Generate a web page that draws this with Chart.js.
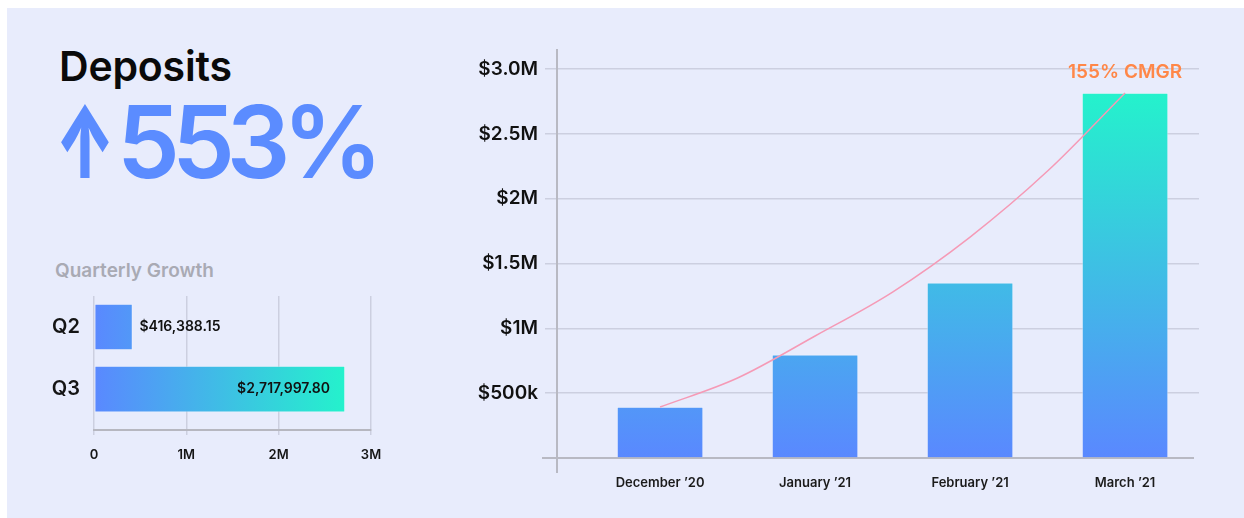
<!DOCTYPE html>
<html>
<head>
<meta charset="utf-8">
<script src="https://cdn.jsdelivr.net/npm/chart.js@4.4.1/dist/chart.umd.min.js"></script>
<style>
  html, body { margin: 0; padding: 0; background: #ffffff; }
  body { width: 1244px; height: 518px; position: relative; overflow: hidden; font-family: Inter, "Noto Sans", sans-serif; }
  #panel { position: absolute; left: 7px; top: 8px; right: 0; bottom: 0; background: #e8ecfc; }
  .txt { position: absolute; white-space: nowrap; line-height: 1; }
  #title { left: 59px; top: 46px; font-size: 41px; font-weight: 600; color: #0a0a0a; letter-spacing: -0.2px; }
  #arrow { left: 55px; top: 92px; font-size: 100px; font-weight: 900; color: #5b8cff; transform: scaleX(0.62); transform-origin: left top; }
  #growth { left: 117px; top: 92px; font-size: 100px; font-weight: 600; color: #5b8cff; letter-spacing: -8px; }
  #sub { left: 55px; top: 261px; font-size: 19px; font-weight: 600; color: #a9aab4; }
  .box { position: absolute; }
  #leftBox { left: 30px; top: 280px; width: 360px; height: 200px; }
  #rightBox { left: 440px; top: 40px; width: 780px; height: 460px; }
</style>
</head>
<body>
<div id="panel"></div>
<div class="txt" id="title">Deposits</div>
<div class="txt" id="arrow">↑</div>
<div class="txt" id="growth">553%</div>
<div class="txt" id="sub">Quarterly Growth</div>
<div class="box" id="leftBox"><canvas id="quarterChart" width="360" height="200"></canvas></div>
<div class="box" id="rightBox"><canvas id="monthChart" width="780" height="460"></canvas></div>

<script>
// quarterly totals
const quarters = ["Q2", "Q3"];
const quarterValues = [416388.15, 2717997.80];
const quarterTicks = ["0", "1M", "2M", "3M"];

// monthly deposits
const months = ["December \u201920", "January \u201921", "February \u201921", "March \u201921"];
const deposits = [393000, 795000, 1350000, 2815000];
const yTickLabels = ["", "$500k", "$1M", "$1.5M", "$2M", "$2.5M", "$3.0M"];

// growth curve (x = month index)
const curveX = [0, 0.5, 1, 1.5, 2, 2.5, 3];
const curveY = [393000, 617000, 941000, 1280000, 1704000, 2213000, 2815000];
const cmgrLabel = "155% CMGR";

const BLUE = "#5a88ff";
const TEAL = "#24f2cc";

Chart.defaults.font.family = "Inter, 'Noto Sans', sans-serif";
Chart.defaults.color = "#151515";

function fmtMoney(v) {
    return "$" + v.toLocaleString("en-US", { minimumFractionDigits: 2, maximumFractionDigits: 2 });
}

// ---------- left: quarterly growth ----------
const valueLabels = {
    id: "valueLabels",
    afterDatasetsDraw(chart) {
        const c = chart.ctx;
        const meta = chart.getDatasetMeta(0);
        c.save();
        c.font = "600 14px Inter, sans-serif";
        c.fillStyle = "#111111";
        c.textBaseline = "middle";
        meta.data.forEach((el, i) => {
            const text = fmtMoney(quarterValues[i]);
            const w = c.measureText(text).width;
            if (el.x - el.base > w + 30) {
                c.textAlign = "right";
                c.fillText(text, el.x - 15, el.y);
            } else {
                c.textAlign = "left";
                c.fillText(text, el.x + 7, el.y);
            }
        });
        c.restore();
    }
};

new Chart(document.getElementById("quarterChart"), {
    type: "bar",
    data: {
        datasets: [{
            data: quarters.map((q, i) => ({ x: quarterValues[i], y: i })),
            barThickness: 46,
            borderWidth: 1,
            borderColor: "rgba(255,255,255,0.25)",
            borderSkipped: false,
            backgroundColor: (ctx) => {
                const { chart } = ctx;
                if (!chart.chartArea) return BLUE;
                const x0 = chart.scales.x.getPixelForValue(0);
                const x1 = chart.scales.x.getPixelForValue(Math.max(...quarterValues));
                const g = chart.ctx.createLinearGradient(x0, 0, x1, 0);
                g.addColorStop(0, BLUE);
                g.addColorStop(1, TEAL);
                return g;
            }
        }]
    },
    options: {
        responsive: false,
        animation: false,
        indexAxis: "y",
        layout: { padding: { top: 16, right: 19, left: 0, bottom: 0 } },
        plugins: { legend: { display: false }, tooltip: { enabled: false } },
        scales: {
            x: {
                type: "linear",
                min: 0,
                max: 3000000,
                afterFit: (s) => { s.height = 50; s.paddingLeft = 0; s.paddingRight = 0; },
                ticks: {
                    stepSize: 1000000,
                    padding: 12,
                    font: { size: 13, weight: "600" },
                    callback: (v) => quarterTicks[Math.round(v / 1000000)]
                },
                grid: { color: "rgba(170,172,190,0.45)", lineWidth: 1.5, tickLength: 5 },
                border: { color: "#b6b7c0", width: 2 }
            },
            y: {
                type: "linear",
                reverse: true,
                offset: false,
                min: -0.5,
                max: 1.66,
                afterFit: (s) => { s.width = 64; s.paddingTop = 0; s.paddingBottom = 0; },
                afterBuildTicks: (s) => { s.ticks = quarters.map((q, i) => ({ value: i })); },
                ticks: {
                    padding: 14,
                    autoSkip: false,
                    font: { size: 20, weight: "600" },
                    callback: (v) => quarters[v]
                },
                grid: { display: false, drawTicks: false },
                border: { display: false }
            }
        }
    },
    plugins: [valueLabels]
});

// ---------- right: monthly deposits ----------
const axisLines = {
    id: "axisLines",
    beforeDatasetsDraw(chart) {
        const { ctx: c, chartArea: a } = chart;
        c.save();
        c.strokeStyle = "#b8b9c3";
        c.lineWidth = 2;
        c.beginPath();
        c.moveTo(a.left, a.top - 20);
        c.lineTo(a.left, a.bottom + 15);
        c.moveTo(a.left - 15, a.bottom);
        c.lineTo(a.right - 5, a.bottom);
        c.stroke();
        c.restore();
    }
};

const cmgrText = {
    id: "cmgrText",
    afterDatasetsDraw(chart) {
        const meta = chart.getDatasetMeta(0);
        const last = meta.data[meta.data.length - 1];
        const c = chart.ctx;
        c.save();
        c.font = "600 19px Inter, sans-serif";
        c.fillStyle = "#ff8748";
        c.textAlign = "center";
        c.textBaseline = "middle";
        c.fillText(cmgrLabel, last.x, chart.scales.y.getPixelForValue(3000000) + 3);
        c.restore();
    }
};

new Chart(document.getElementById("monthChart"), {
    data: {
        datasets: [{
            type: "bar",
            data: months.map((m, i) => ({ x: i, y: deposits[i] })),
            barThickness: 86,
            borderWidth: 1,
            borderColor: "rgba(255,255,255,0.3)",
            borderSkipped: "bottom",
            order: 2,
            backgroundColor: (ctx) => {
                const { chart } = ctx;
                if (!chart.chartArea) return BLUE;
                const y0 = chart.scales.y.getPixelForValue(0);
                const y1 = chart.scales.y.getPixelForValue(Math.max(...deposits));
                const g = chart.ctx.createLinearGradient(0, y0, 0, y1);
                g.addColorStop(0, BLUE);
                g.addColorStop(1, TEAL);
                return g;
            }
        }, {
            type: "line",
            data: curveX.map((x, i) => ({ x: x, y: curveY[i] })),
            borderColor: "#f59ab6",
            borderWidth: 1.5,
            pointRadius: 0,
            cubicInterpolationMode: "monotone",
            order: 1
        }]
    },
    options: {
        responsive: false,
        animation: false,
        layout: { padding: { top: 29, right: 21, left: 0, bottom: 0 } },
        plugins: { legend: { display: false }, tooltip: { enabled: false } },
        scales: {
            x: {
                type: "linear",
                offset: false,
                min: -0.665,
                max: 3.477,
                afterFit: (s) => { s.height = 42; s.paddingLeft = 0; s.paddingRight = 0; },
                afterBuildTicks: (s) => { s.ticks = months.map((m, i) => ({ value: i })); },
                ticks: {
                    padding: 17,
                    autoSkip: false,
                    maxRotation: 0,
                    font: { size: 13, weight: "600" },
                    color: "#1b1b1b",
                    callback: (v) => months[v]
                },
                grid: { display: false, drawTicks: false },
                border: { display: false }
            },
            y: {
                min: 0,
                max: 3000000,
                afterFit: (s) => { s.width = 117; s.paddingTop = 0; s.paddingBottom = 0; },
                ticks: {
                    stepSize: 500000,
                    padding: 7,
                    font: { size: 19, weight: "600" },
                    color: "#111111",
                    callback: (v) => yTickLabels[Math.round(v / 500000)]
                },
                grid: {
                    color: (ctx) => ctx.tick && ctx.tick.value === 0 ? "rgba(0,0,0,0)" : "rgba(170,172,190,0.45)",
                    lineWidth: 1.5,
                    tickLength: 12
                },
                border: { display: false }
            }
        }
    },
    plugins: [axisLines, cmgrText]
});
</script>
</body>
</html>
